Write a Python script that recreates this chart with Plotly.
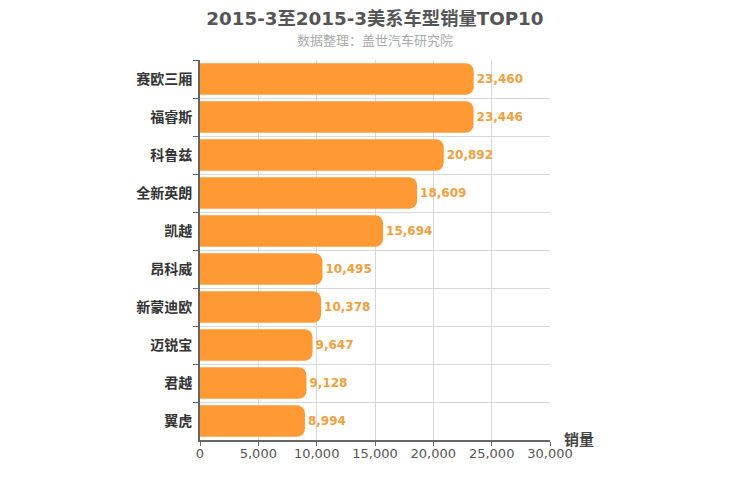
import plotly.graph_objects as go

models = ["赛欧三厢", "福睿斯", "科鲁兹", "全新英朗", "凯越", "昂科威", "新蒙迪欧", "迈锐宝", "君越", "翼虎"]
sales = [23460, 23446, 20892, 18609, 15694, 10495, 10378, 9647, 9128, 8994]
x_ticks = [0, 5000, 10000, 15000, 20000, 25000, 30000]
x_tick_labels = ["0", "5,000", "10,000", "15,000", "20,000", "25,000", "30,000"]

FONT = "DejaVu Sans, Noto Sans CJK SC, sans-serif"

fig = go.Figure(go.Bar(
    x=sales,
    y=models,
    orientation="h",
    marker=dict(color="#FF9933", line=dict(width=0), cornerradius=8),
    texttemplate="%{x:,}",
    textposition="outside",
    cliponaxis=False,
    textfont=dict(family=FONT, size=12, color="#F0A040", weight="bold"),
))

fig.update_layout(
    width=750, height=500,
    paper_bgcolor="white", plot_bgcolor="white",
    margin=dict(l=192, r=208, t=52, b=68),
    bargap=0.17,
    showlegend=False,
    font=dict(family=FONT),
    title=dict(
        text="<b>2015-3至2015-3美系车型销量TOP10</b>",
        x=0.4893, xanchor="center", y=0.992, yanchor="top",
        font=dict(family=FONT, size=18.3, color="#555555"),
    ),
    annotations=[
        dict(text="数据整理：盖世汽车研究院", x=0.5, xref="paper", y=1.05, yref="paper",
             yanchor="middle", showarrow=False,
             font=dict(family=FONT, size=13, color="#AAAAAA")),
        dict(text="<b>销量</b>", x=1.0, xref="paper", y=0, yref="paper",
             xanchor="left", yanchor="middle", xshift=12, showarrow=False,
             font=dict(family=FONT, size=15, color="#444444")),
    ],
    xaxis=dict(
        range=[0, 30000],
        tickvals=x_ticks, ticktext=x_tick_labels,
        showgrid=True, gridcolor="#D8D8D8", gridwidth=1,
        showline=True, linecolor="#666666", linewidth=2,
        ticks="outside", ticklen=4, tickcolor="#666666",
        tickfont=dict(family=FONT, size=13, color="#555555"),
        ticklabelstandoff=-4,
        zeroline=False, fixedrange=True,
    ),
    yaxis=dict(
        autorange="reversed",
        tickson="boundaries",
        showgrid=True, gridcolor="#D8D8D8", gridwidth=1,
        showline=True, linecolor="#666666", linewidth=2,
        ticks="outside", ticklen=5, tickcolor="#666666",
        tickfont=dict(family=FONT, size=14, color="#333333", weight="bold"),
        ticklabelstandoff=3,
    ),
)

fig.write_html("out.html")
